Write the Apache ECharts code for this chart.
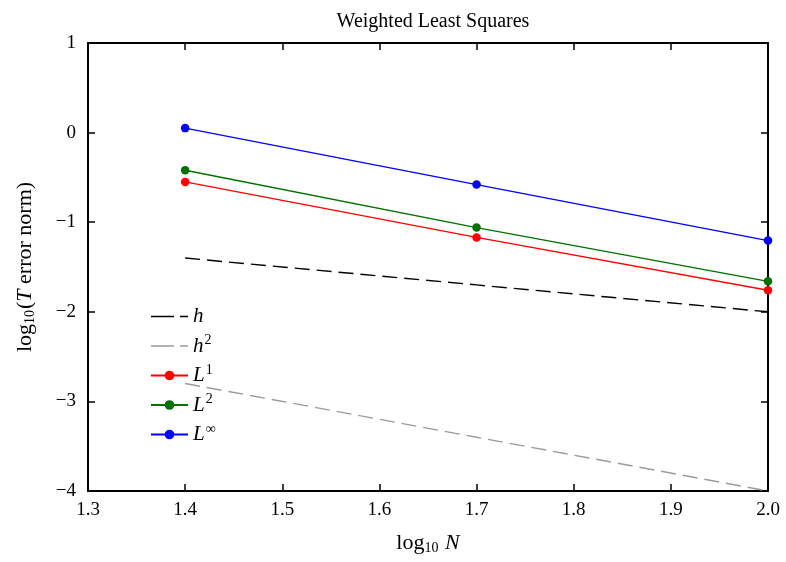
<!DOCTYPE html>
<html>
<head>
<meta charset="utf-8">
<script src="https://cdn.jsdelivr.net/npm/echarts@6/dist/echarts.min.js"></script>
<style>
  html, body { margin: 0; padding: 0; background: #fff; }
  #chart { width: 786px; height: 562px; }
</style>
</head>
<body>
<div id="chart"></div>
<script>
// values (log10 N vs log10 error)
const logN = [1.4, 1.7, 2.0];
const errL1 = [-0.55, -1.17, -1.76];
const errL2 = [-0.42, -1.06, -1.66];
const errLinf = [0.05, -0.58, -1.205];
const refH = [-1.4, -1.7, -2.0];
const refH2 = [-2.8, -3.4, -4.0];

const FONT = 'Liberation Serif';

const pairs = (ys) => logN.map((x, i) => [x, ys[i]]);
const fmtMinus = (v) => String(v).replace('-', '\u2212');

const chart = echarts.init(document.getElementById('chart'));

const mathRich = {
  i: { fontFamily: FONT, fontStyle: 'italic', fontSize: 21, color: '#000' },
  s: { fontFamily: FONT, fontSize: 14, color: '#000', verticalAlign: 'top', padding: [0, 0, 11, 1] }
};

const legendNames = {
  h: '{i|h}',
  h2: '{i|h}{s|2}',
  L1: '{i|L}{s|1}',
  L2: '{i|L}{s|2}',
  Linf: '{i|L}{s|\u221e}'
};
// dashed legend sample, long dash + short dash
const dashIcon = 'path://M0,0h23v1.6h-23zM29,0h8v1.6h-8z';

const lineSeries = (name, data, color, marker, dash) => ({
  name: name,
  type: 'line',
  data: data,
  symbol: marker ? 'circle' : 'none',
  symbolSize: 8.5,
  showSymbol: marker,
  itemStyle: { color: color },
  lineStyle: { color: color, width: 1.4, type: dash ? [15, 7] : 'solid' },
  emphasis: { disabled: true },
  animation: false,
  z: marker ? 3 : 2
});

const labelRich = {
  t: { fontFamily: FONT, fontSize: 22, color: '#000' },
  sub: { fontFamily: FONT, fontSize: 14, color: '#000', verticalAlign: 'bottom', padding: [9, 1, 0, 0] },
  i: { fontFamily: FONT, fontStyle: 'italic', fontSize: 22, color: '#000' }
};

const frameAxis = {
  splitLine: { show: false },
  axisLine: { show: true, onZero: false, lineStyle: { color: '#000', width: 2 } },
  axisTick: { show: true, inside: true, length: 7, lineStyle: { color: '#000', width: 1.5 } }
};

chart.setOption({
  animation: false,
  title: {
    text: 'Weighted Least Squares',
    left: 428,
    textAlign: 'center',
    top: 7,
    textStyle: { fontFamily: FONT, fontSize: 20, fontWeight: 'normal', color: '#000' }
  },
  grid: { left: 88, right: 18, top: 43, bottom: 71, containLabel: false },
  legend: {
    orient: 'vertical',
    left: 145,
    top: 301,
    itemWidth: 37,
    itemHeight: 12,
    itemGap: 6.5,
    data: [
      { name: 'h', icon: dashIcon },
      { name: 'h2', icon: dashIcon },
      'L1', 'L2', 'Linf'
    ],
    formatter: (name) => legendNames[name],
    textStyle: { rich: mathRich, fontFamily: FONT, fontSize: 21, color: '#000' }
  },
  xAxis: [Object.assign({
    type: 'value',
    min: 1.3,
    max: 2.0,
    interval: 0.1,
    name: '{t|log}{sub|10}{i| N}',
    nameLocation: 'middle',
    nameGap: 41,
    nameTextStyle: { rich: labelRich },
    axisLabel: {
      margin: 10,
      fontFamily: FONT, fontSize: 19, color: '#000',
      formatter: (v) => v.toFixed(1)
    }
  }, frameAxis), Object.assign({
    type: 'value',
    position: 'top',
    min: 1.3,
    max: 2.0,
    interval: 0.1,
    axisLabel: { show: false }
  }, frameAxis)],
  yAxis: [Object.assign({
    type: 'value',
    min: -4,
    max: 1,
    interval: 1,
    name: '{t|log}{sub|10}{t|(}{i|T}{t| error norm)}',
    nameLocation: 'middle',
    nameGap: 51,
    nameTextStyle: { rich: labelRich },
    axisLabel: {
      margin: 12,
      fontFamily: FONT, fontSize: 19, color: '#000',
      formatter: fmtMinus
    }
  }, frameAxis), Object.assign({
    type: 'value',
    position: 'right',
    min: -4,
    max: 1,
    interval: 1,
    axisLabel: { show: false }
  }, frameAxis)],
  series: [
    lineSeries('h', pairs(refH), '#000000', false, true),
    lineSeries('h2', pairs(refH2), '#9a9a9a', false, true),
    lineSeries('L1', pairs(errL1), '#ff0000', true, false),
    lineSeries('L2', pairs(errL2), '#007000', true, false),
    lineSeries('Linf', pairs(errLinf), '#0000ff', true, false)
  ]
});
</script>
</body>
</html>
